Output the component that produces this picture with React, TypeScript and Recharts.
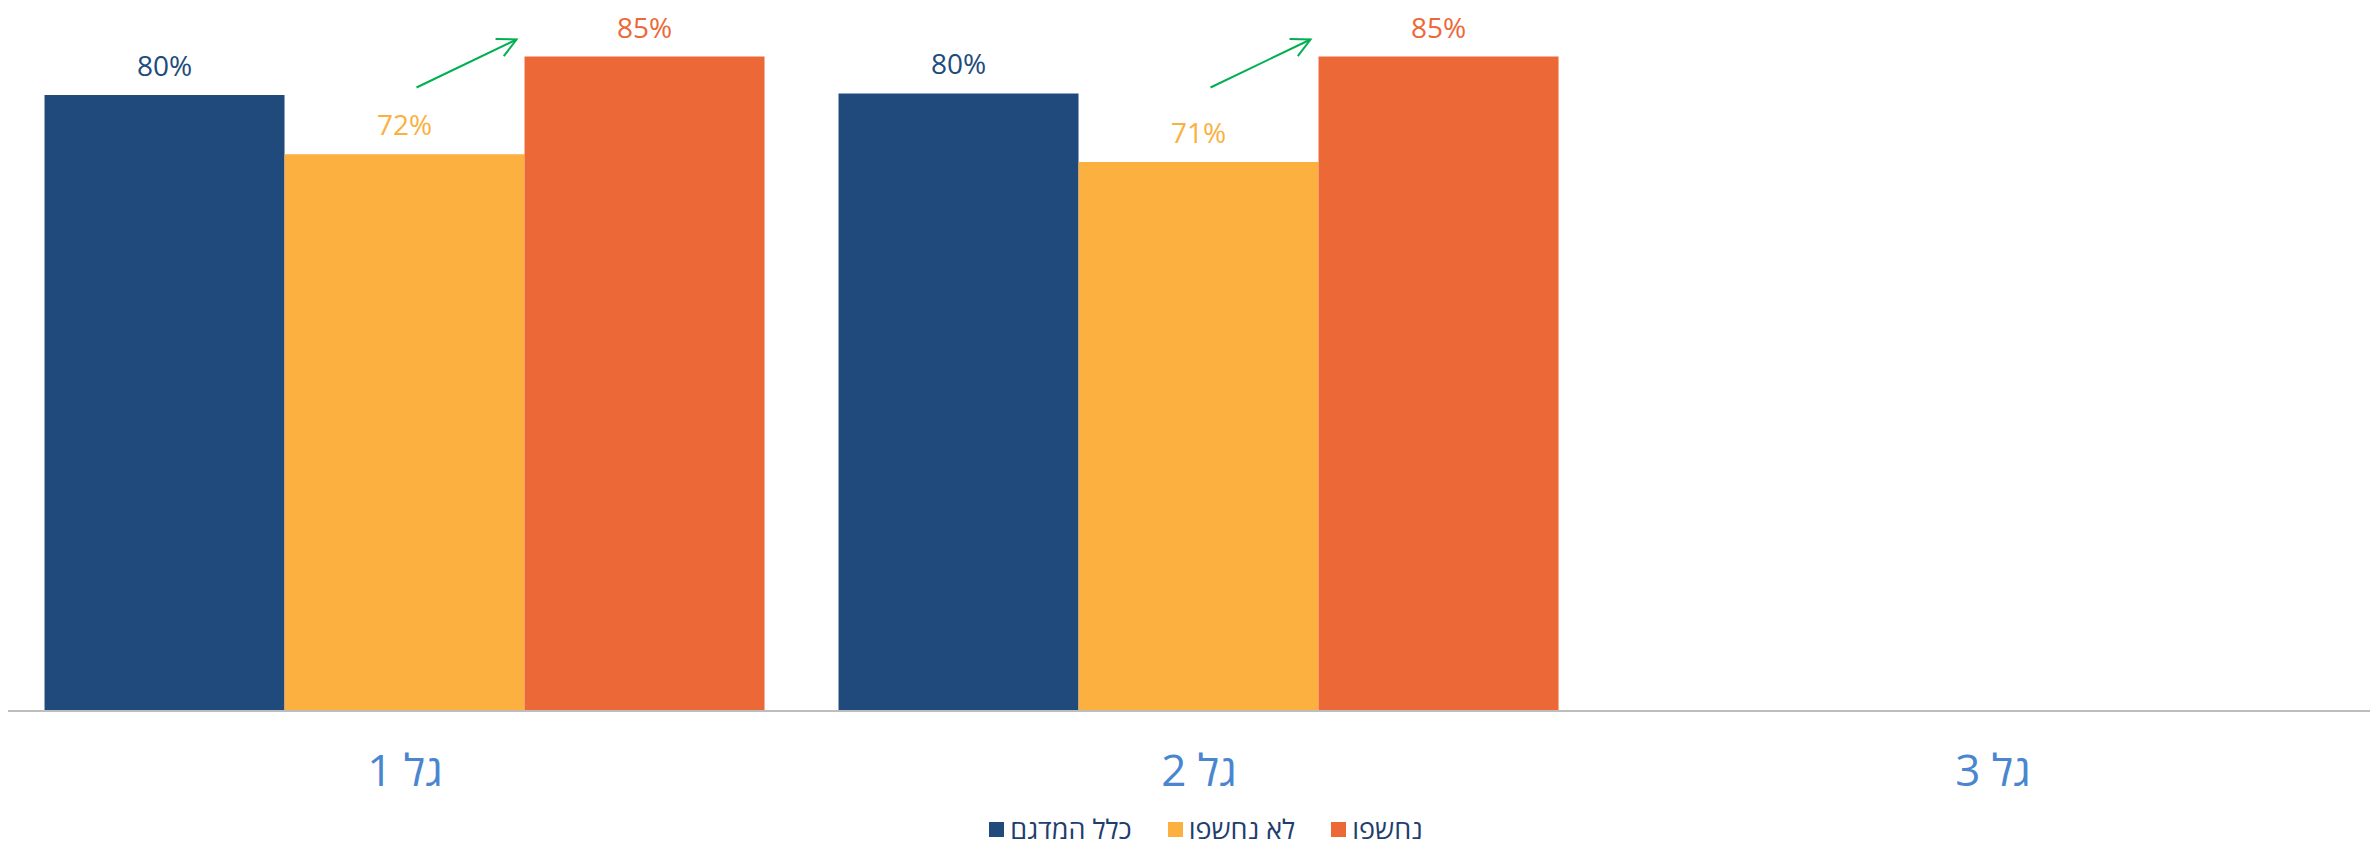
import React from "react";
import { BarChart, Bar, XAxis, YAxis, Legend, LabelList } from "recharts";

const categories = ["גל 1", "גל 2", "גל 3"];
const seriesNames = ["כלל המדגם", "לא נחשפו", "נחשפו"];
const allSample = [80, 80.2, null];
const notExposed = [72.3, 71.3, null];
const exposed = [85, 85, null];
const seriesColors = ["#214A7C", "#FBB040", "#ED6837"];

const FONT = "'Open Sans', 'Liberation Sans', 'DejaVu Sans', sans-serif";

const data = categories.map((c, i) => ({
  name: c,
  all: allSample[i],
  notExp: notExposed[i],
  exp: exposed[i],
}));

const fmt = (v: any) => (v == null ? "" : `${Math.round(Number(v))}%`);

const CategoryTick = (props: any) => {
  const { x, y, payload } = props;
  return (
    <text
      x={x}
      y={y}
      dy={75}
      textAnchor="middle"
      direction="rtl"
      fill="#4A86D0"
      fontSize={44}
      fontFamily={FONT}
    >
      {payload.value}
    </text>
  );
};

const ExposedShape = (props: any) => {
  const { x, y, width, height, fill } = props;
  if (!height || height <= 0) return null;
  const hx = x - 8;
  const hy = y - 17;
  const tx = x - 108;
  const ty = y + 31;
  const ang = Math.atan2(ty - hy, tx - hx);
  const len = 21;
  const spread = (27 * Math.PI) / 180;
  const a1x = hx + len * Math.cos(ang + spread);
  const a1y = hy + len * Math.sin(ang + spread);
  const a2x = hx + len * Math.cos(ang - spread);
  const a2y = hy + len * Math.sin(ang - spread);
  return (
    <g>
      <rect x={x} y={y} width={width} height={height} fill={fill} />
      <line x1={tx} y1={ty} x2={hx} y2={hy} stroke="#00B050" strokeWidth={2} />
      <polyline
        points={`${a1x},${a1y} ${hx},${hy} ${a2x},${a2y}`}
        fill="none"
        stroke="#00B050"
        strokeWidth={2}
      />
    </g>
  );
};

const renderLegend = () => (
  <div
    style={{
      position: "relative",
      top: 0,
      display: "flex",
      justifyContent: "center",
      alignItems: "center",
      paddingLeft: 14,
      fontFamily: FONT,
      fontSize: 27,
      lineHeight: "34px",
      color: "#1F3D6E",
    }}
  >
    {seriesNames.map((n, i) => (
      <div
        key={n}
        style={{ display: "flex", alignItems: "center", marginRight: i < seriesNames.length - 1 ? 36 : 0 }}
      >
        <span
          style={{ display: "inline-block", width: 15, height: 15, background: seriesColors[i], marginRight: 6 }}
        />
        <span>{n}</span>
      </div>
    ))}
  </div>
);

export default function App() {
  return (
    <div
      style={{
        position: "absolute",
        left: 0,
        top: 0,
        width: 2370,
        height: 846,
        overflow: "hidden",
        background: "#fff",
      }}
    >
      <BarChart
        width={2390}
        height={846}
        data={data}
        margin={{ top: 18, right: 0, bottom: 0, left: 8 }}
        barCategoryGap="4.6%"
        barGap={0}
      >
        <YAxis hide domain={[0, 90]} />
        <XAxis
          dataKey="name"
          height={101}
          tickLine={false}
          tickSize={0}
          tickMargin={0}
          axisLine={{ stroke: "#BDBDBD", strokeWidth: 2 }}
          tick={<CategoryTick />}
          interval={0}
        />
        <Legend verticalAlign="bottom" content={renderLegend} />
        <Bar dataKey="all" name={seriesNames[0]} fill={seriesColors[0]} isAnimationActive={false}>
          <LabelList
            dataKey="all"
            position="top"
            offset={19}
            formatter={fmt}
            fill={seriesColors[0]}
            fontSize={28}
            fontFamily={FONT}
          />
        </Bar>
        <Bar dataKey="notExp" name={seriesNames[1]} fill={seriesColors[1]} isAnimationActive={false}>
          <LabelList
            dataKey="notExp"
            position="top"
            offset={19}
            formatter={fmt}
            fill={seriesColors[1]}
            fontSize={28}
            fontFamily={FONT}
          />
        </Bar>
        <Bar
          dataKey="exp"
          name={seriesNames[2]}
          fill={seriesColors[2]}
          isAnimationActive={false}
          shape={<ExposedShape />}
        >
          <LabelList
            dataKey="exp"
            position="top"
            offset={19}
            formatter={fmt}
            fill={seriesColors[2]}
            fontSize={28}
            fontFamily={FONT}
          />
        </Bar>
      </BarChart>
    </div>
  );
}
